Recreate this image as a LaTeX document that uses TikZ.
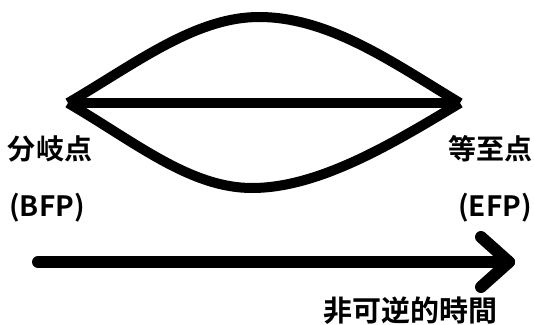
\documentclass[tikz,border=0pt]{standalone}
\usepackage{fontspec}
\newfontfamily\jpfont{Noto Sans CJK JP Bold}
\begin{document}
\begin{tikzpicture}[x=1pt,y=-1pt,
  curve/.style={line width=10pt,line join=miter},
  lbl/.style={font=\jpfont\fontsize{28}{30}\selectfont,inner sep=0pt},
  timearrow/.style={line width=12pt,line cap=round,line join=round}]
\useasboundingbox (0,0) rectangle (534,324);
\coordinate (bfp) at (68,103);
\coordinate (efp) at (460,103);
\draw[curve] (bfp) -- (efp);
\draw[curve] (bfp) .. controls (135,64) and (195,17) .. (259,17) .. controls (330,17) and (395,64) .. (efp);
\draw[curve] (bfp) .. controls (135,142) and (190,188) .. (252,188) .. controls (320,188) and (395,142) .. (efp);
\node[lbl] (bfpj) at (50,149) {分岐点};
\node[lbl] (bfpe) at (47,208) {(BFP)};
\node[lbl] (efpj) at (490,149) {等至点};
\node[lbl] (efpe) at (495,208) {(EFP)};
\coordinate (ta) at (38,262);
\coordinate (tb) at (509,262);
\coordinate (tu) at (481,237);
\coordinate (td) at (481,287);
\draw[timearrow] (ta) -- (tb);
\draw[timearrow] (tu) -- (tb) -- (td);
\node[lbl,font=\jpfont\fontsize{29}{31}\selectfont] (time) at (410,311) {非可逆的時間};
\end{tikzpicture}
\end{document}
